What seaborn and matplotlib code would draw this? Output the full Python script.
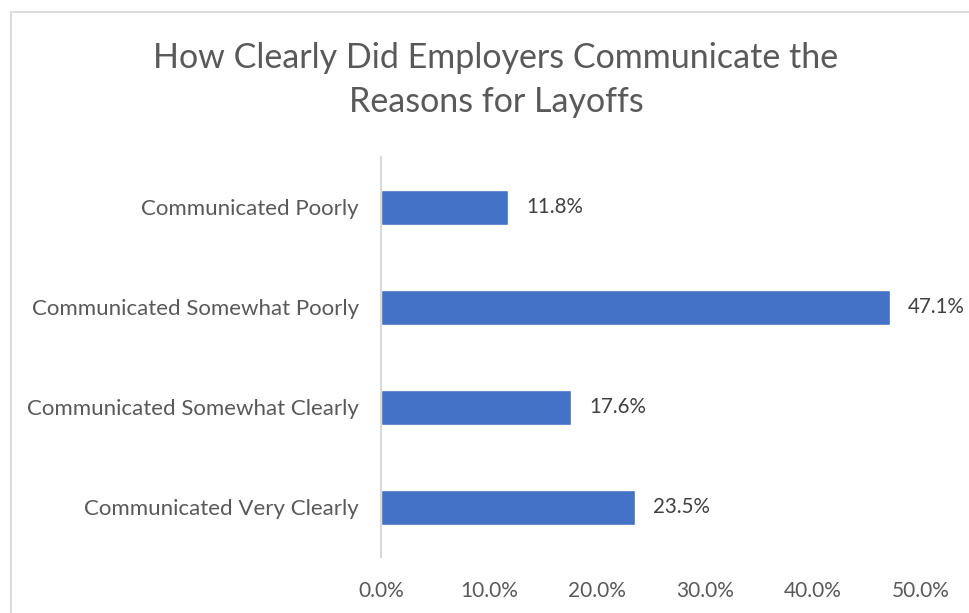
import matplotlib
matplotlib.use("Agg")
import matplotlib.pyplot as plt
import seaborn as sns
import pandas as pd
from matplotlib.patches import Rectangle
from matplotlib.ticker import PercentFormatter

categories = ["Communicated Poorly", "Communicated Somewhat Poorly",
              "Communicated Somewhat Clearly", "Communicated Very Clearly"]
values = [0.118, 0.471, 0.176, 0.235]
value_labels = ["11.8%", "47.1%", "17.6%", "23.5%"]
x_ticks = [0.0, 0.1, 0.2, 0.3, 0.4, 0.5]
title = "How Clearly Did Employers Communicate the\nReasons for Layoffs"

sns.set_theme(style="white")
plt.rcParams['font.family'] = ['Lato', 'DejaVu Sans']

df = pd.DataFrame({"category": categories, "value": values})

fig = plt.figure(figsize=(9.69, 6.13), dpi=100)
fig.patches.append(Rectangle((11/969, -0.1), 1.2, 1 - 12/613 + 0.1, transform=fig.transFigure,
                             fill=False, edgecolor="#d9d9d9", linewidth=1.3))
ax = fig.add_axes([381/969, 1 - 557/613, (921 - 381)/969, (557 - 157)/613])

sns.barplot(data=df, y="category", x="value", orient="h", color="#4472c4",
            width=0.35, ax=ax, saturation=1)

ax.set_xlim(0, 0.5)
ax.set_ylim(3.5, -0.5)
ax.set_xticks(x_ticks)
ax.xaxis.set_major_formatter(PercentFormatter(1.0, decimals=1))
ax.set_xlabel("")
ax.set_ylabel("")
for s in ["top", "right", "bottom"]:
    ax.spines[s].set_visible(False)
ax.spines["left"].set_color("#d9d9d9")
ax.spines["left"].set_linewidth(1.5)
ax.tick_params(axis="x", length=0, pad=17, labelsize=15, labelcolor="#595959")
ax.tick_params(axis="y", length=0, pad=16, labelsize=16, labelcolor="#595959")

for i, (v, lab) in enumerate(zip(values, value_labels)):
    ax.annotate(lab, (v, i), xytext=(13, 0), textcoords="offset points",
                va="center", ha="left", fontsize=14.8, color="#404040")

fig.text(496/969, 1 - 80/613, title, ha="center", va="center", fontsize=24.5,
         color="#595959", linespacing=1.45)

fig.savefig("out.png", dpi=100)
